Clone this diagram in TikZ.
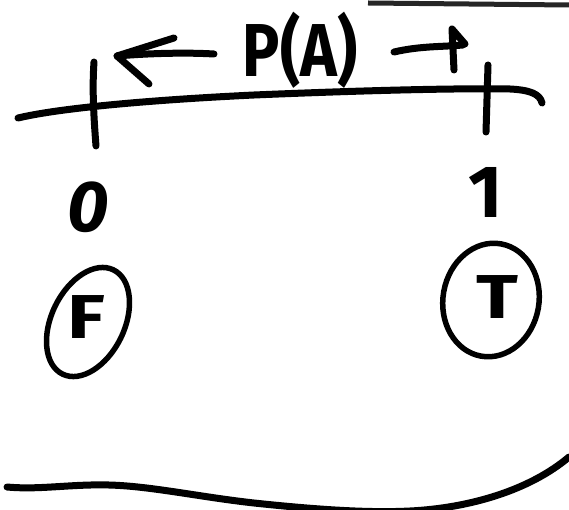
\documentclass[tikz,border=0pt]{standalone}
\usepackage{fontspec}
\newfontfamily\hand{Fira Sans}
\usetikzlibrary{shapes.geometric}
\begin{document}
\begin{tikzpicture}[x=1pt,y=-1pt,
  ink/.style={line width=7pt, line cap=round, line join=round},
  ring/.style={draw, ellipse, line width=5.5pt, inner sep=0pt},
  lbl/.style={inner sep=0pt, font=\hand\bfseries}]
\useasboundingbox (0,0) rectangle (569,510);
% scan edge at top right
\draw[line width=5pt, black!85] (368,3) -- (569,5);
% axis
\coordinate (axL) at (18,118);
\coordinate (axR) at (542,103);
\draw[ink] (axL) .. controls (60,108) and (150,100) .. (254,95)
  .. controls (350,91) and (450,88) .. (510,89)
  .. controls (530,90) and (540,94) .. (axR);
% ticks
\coordinate (t0a) at (94,62); \coordinate (t0b) at (96,146);
\coordinate (t1a) at (488,65); \coordinate (t1b) at (486,132);
\draw[ink] (t0a) .. controls (92,90) and (94,120) .. (t0b);
\draw[ink] (t1a) -- (t1b);
% label P(A)
\node[lbl, font=\hand\bfseries\fontsize{75}{75}\selectfont, xscale=0.83] (pa) at (300,50) {P(A)};
% left arrow
\coordinate (la0) at (214,54); \coordinate (laT) at (117,56);
\coordinate (laU) at (174,38); \coordinate (laD) at (149,84);
\draw[ink] (la0) .. controls (180,52) and (140,54) .. (laT);
\draw[ink] (laU) -- (laT) -- (laD);
% right arrow
\coordinate (ra0) at (394,52); \coordinate (raT) at (463,45);
\coordinate (raU) at (452,29); \coordinate (raD) at (454,70);
\draw[ink] (ra0) .. controls (420,46) and (440,47) .. (raT);
\draw[ink] (raD) -- (raU) -- (465,44);
% 0 and 1
\node[lbl, font=\hand\bfseries\itshape\fontsize{72}{72}\selectfont] (zero) at (88,207) {0};
\node[lbl, font=\hand\bfseries\fontsize{74}{74}\selectfont] (one) at (486,192) {1};
% F and T
\node[lbl, font=\hand\bfseries\fontsize{62}{62}\selectfont, xscale=1.25] (F) at (86,317) {F};
\node[ring, minimum width=73pt, minimum height=116pt, rotate=-26] (Fring) at (88,322) {};
\node[lbl, font=\hand\bfseries\fontsize{62}{62}\selectfont, xscale=1.25] (T) at (497,297) {T};
\node[ring, minimum width=96pt, minimum height=114pt, rotate=-10] (Tring) at (491,300) {};
% bottom line
\draw[ink] (7,487) .. controls (40,490) and (70,484) .. (109,485)
  .. controls (150,486) and (200,497) .. (254,503)
  .. controls (320,510) and (370,513) .. (410,511)
  .. controls (470,508) and (530,490) .. (569,457);
\end{tikzpicture}
\end{document}
